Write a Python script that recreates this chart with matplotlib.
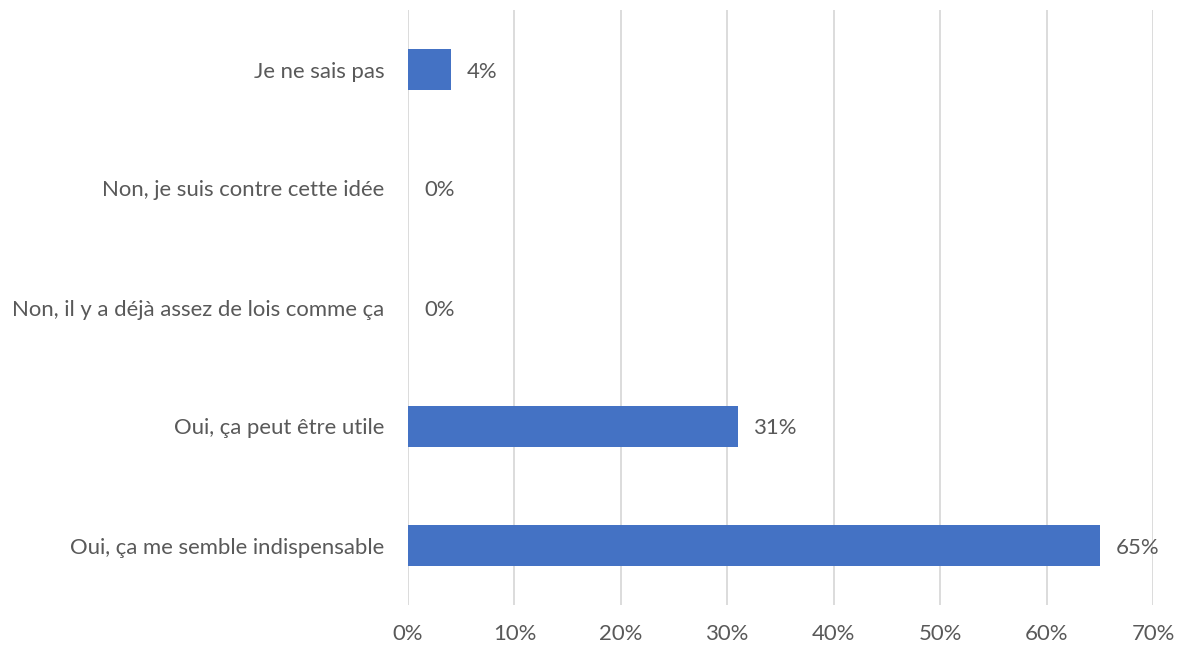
import matplotlib.pyplot as plt
from matplotlib.ticker import PercentFormatter

categories = [
    "Oui, ça me semble indispensable",
    "Oui, ça peut être utile",
    "Non, il y a déjà assez de lois comme ça",
    "Non, je suis contre cette idée",
    "Je ne sais pas",
]
values = [65, 31, 0, 0, 4]
ticks = [0, 10, 20, 30, 40, 50, 60, 70]

plt.rcParams['font.family'] = ['Lato', 'DejaVu Sans']
text_color = '#595959'
fsize = 15.9

fig = plt.figure(figsize=(11.8, 6.46), dpi=100)
ax = fig.add_axes([408 / 1180, 1 - 605 / 646, 745 / 1180, 595 / 646])

pos = range(len(categories))
ax.barh(pos, values, height=0.35, color='#4472C4', zorder=3)

# data labels to the right of each bar
for y, v in zip(pos, values):
    ax.text(v + 1.5, y, f"{v}%", va='center_baseline', ha='left', fontsize=fsize, color=text_color)

ax.set_xlim(0, 70)
ax.set_ylim(-0.5, len(categories) - 0.5)
ax.set_xticks(ticks)
ax.xaxis.set_major_formatter(PercentFormatter(decimals=0))
ax.set_yticks(list(pos))
ax.set_yticklabels(categories)
ax.grid(axis='x', color='#D9D9D9', linewidth=1.3, zorder=0)
for s in ax.spines.values():
    s.set_visible(False)
ax.tick_params(axis='both', length=0, labelsize=fsize, colors=text_color)
ax.tick_params(axis='y', pad=17)
ax.tick_params(axis='x', pad=14)

fig.savefig('out.png', dpi=100)
